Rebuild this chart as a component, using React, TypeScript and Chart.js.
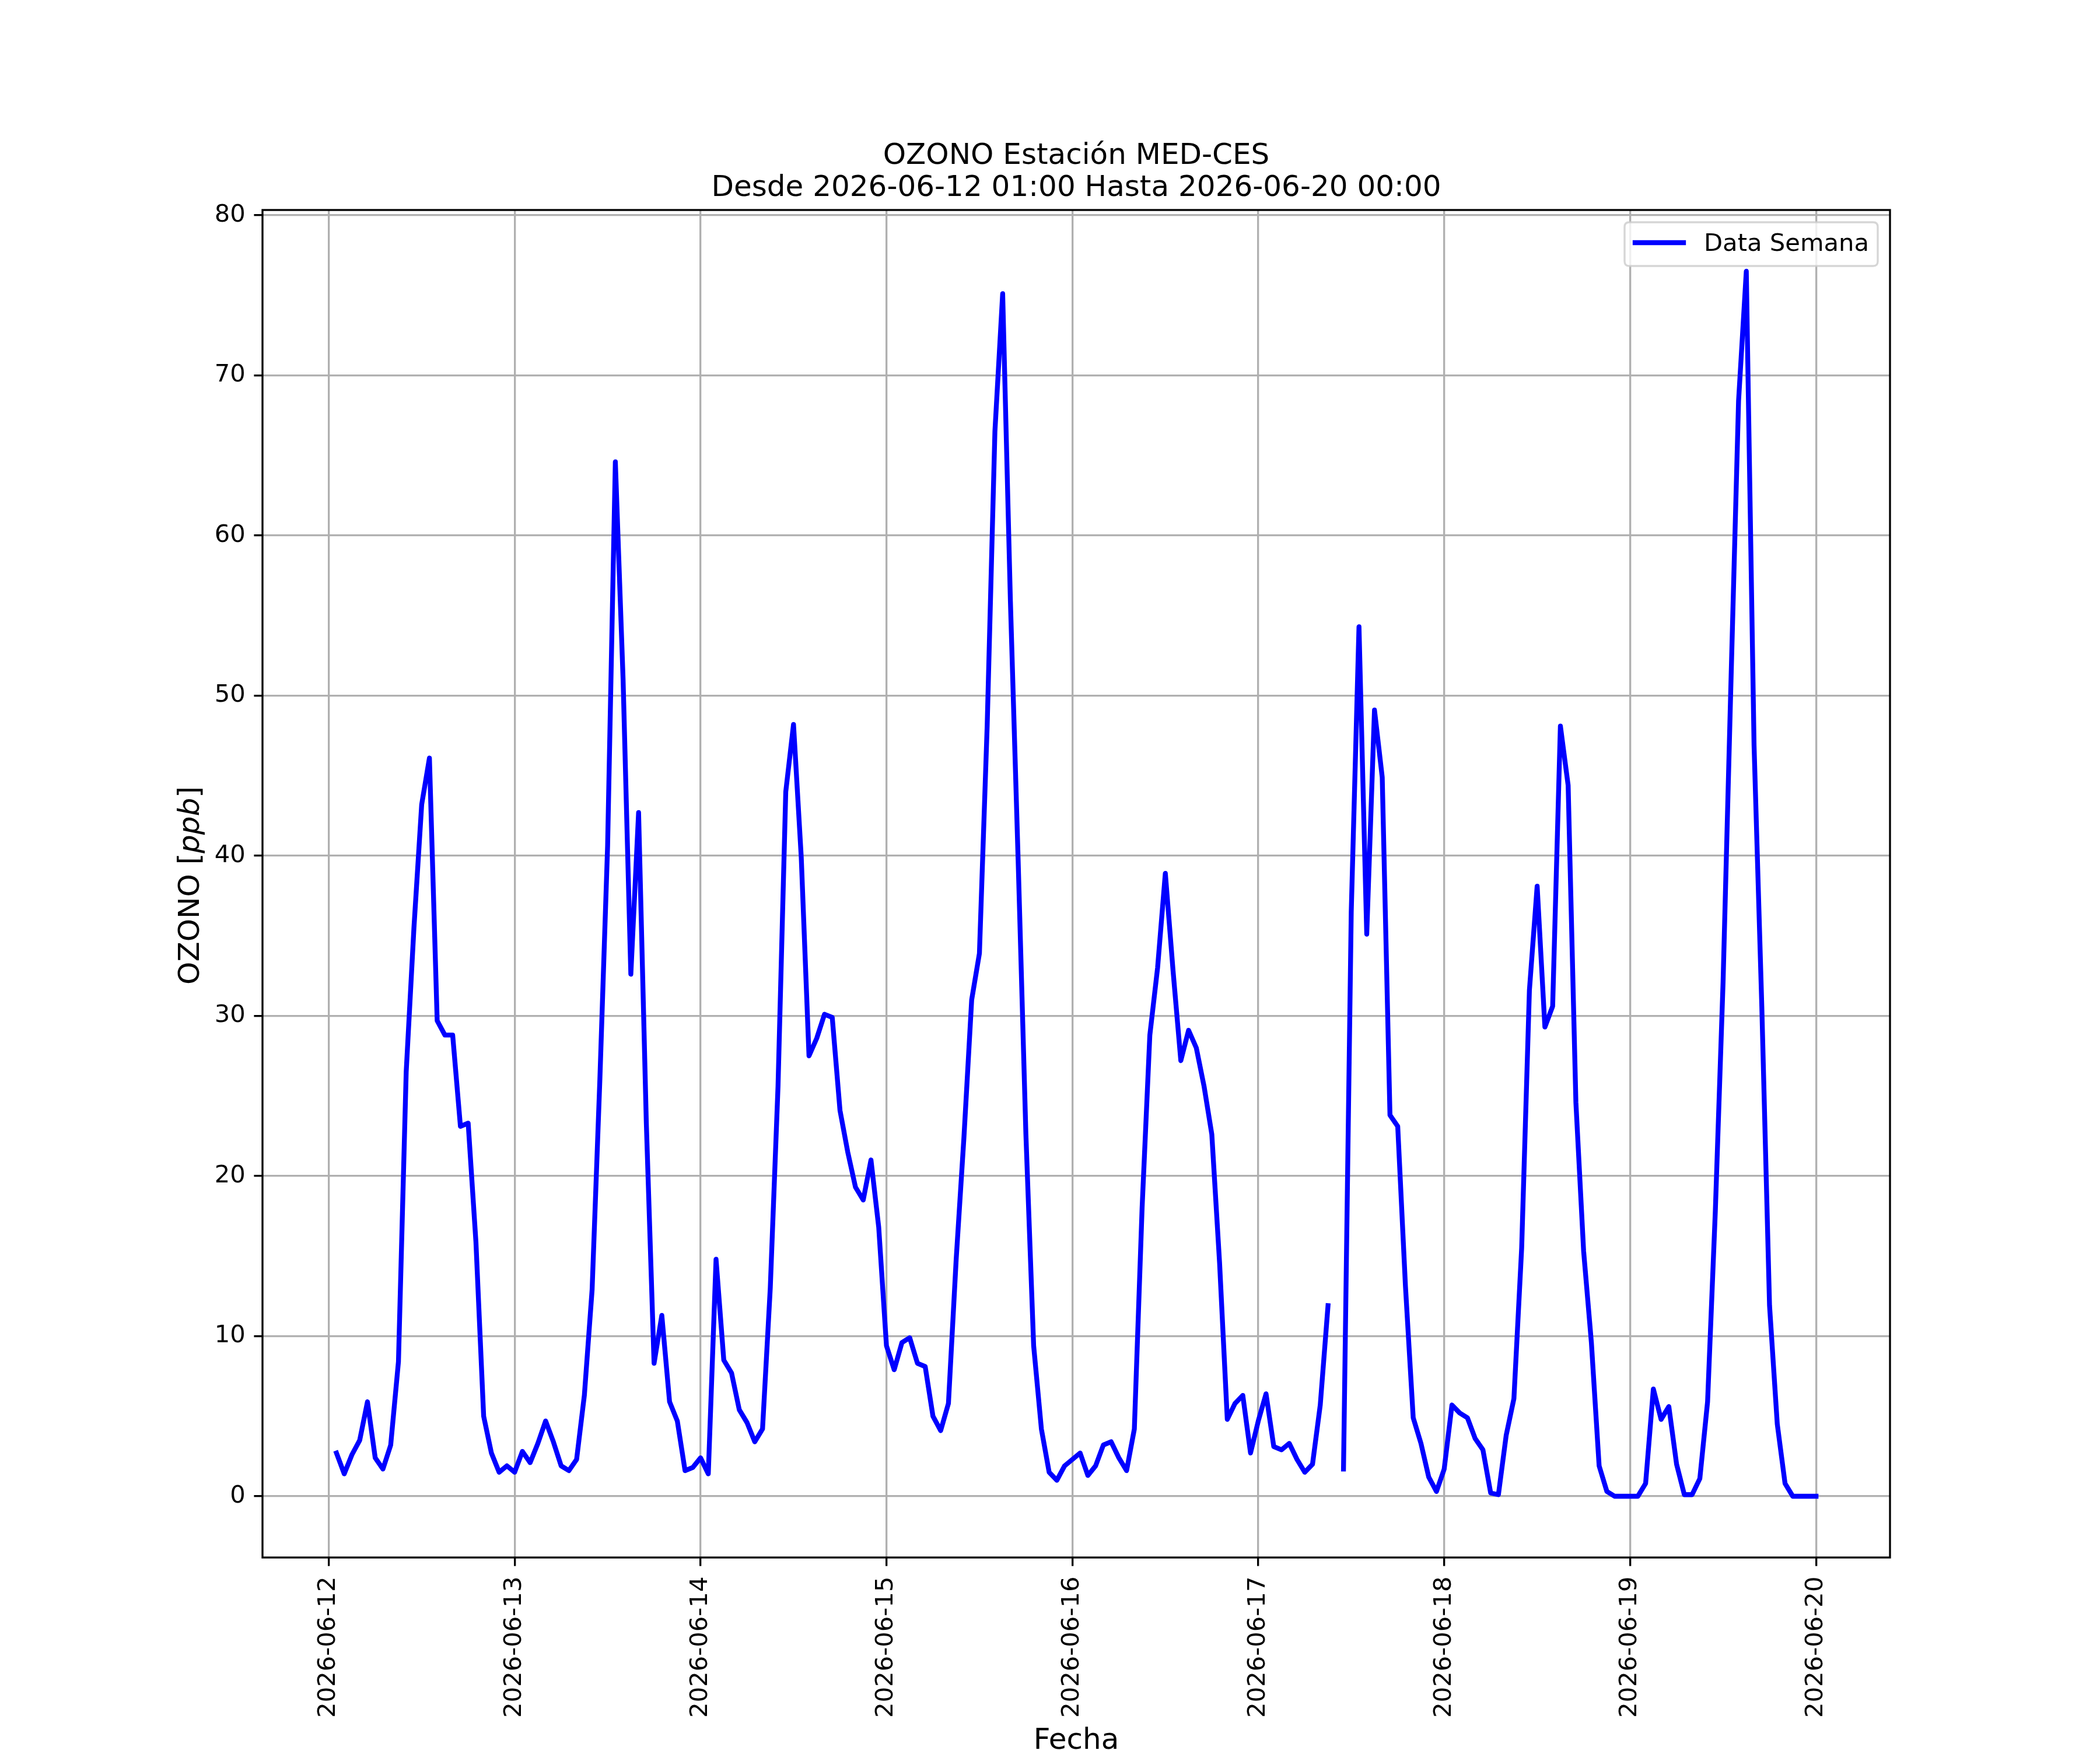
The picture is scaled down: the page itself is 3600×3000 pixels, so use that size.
import React, { useEffect, useRef } from "react";
import { Chart, registerables } from "chart.js";

Chart.register(...registerables);

// ---- data (hourly OZONO ppb, 01:00 .. 24:00 of each day) ----
const tickLabels = [
  "2026-06-12", "2026-06-13", "2026-06-14", "2026-06-15", "2026-06-16",
  "2026-06-17", "2026-06-18", "2026-06-19", "2026-06-20",
];
const ozone0612 = [2.7, 1.4, 2.6, 3.5, 5.9, 2.4, 1.7, 3.2, 8.4, 26.5, 35.5, 43.2, 46.1, 29.7, 28.8, 28.8, 23.1, 23.3, 15.9, 5.0, 2.7, 1.5, 1.9, 1.5];
const ozone0613 = [2.8, 2.1, 3.3, 4.7, 3.4, 1.9, 1.6, 2.3, 6.3, 12.9, 26.0, 40.6, 64.6, 51.0, 32.6, 42.7, 23.3, 8.3, 11.3, 5.9, 4.7, 1.6, 1.8, 2.4];
const ozone0614 = [1.4, 14.8, 8.5, 7.7, 5.4, 4.6, 3.4, 4.2, 13.0, 25.6, 44.0, 48.2, 39.9, 27.5, 28.6, 30.1, 29.9, 24.1, 21.5, 19.3, 18.5, 21.0, 16.8, 9.4];
const ozone0615 = [7.9, 9.6, 9.9, 8.3, 8.1, 5.0, 4.1, 5.8, 14.8, 22.4, 31.0, 33.9, 48.1, 66.5, 75.1, 55.9, 39.7, 22.6, 9.4, 4.2, 1.5, 1.0, 1.9, 2.3];
const ozone0616 = [2.7, 1.3, 1.9, 3.2, 3.4, 2.4, 1.6, 4.2, 18.0, 28.8, 33.0, 38.9, 32.8, 27.2, 29.1, 28.0, 25.6, 22.6, 14.6, 4.8, 5.8, 6.3, 2.7, 4.7];
const ozone0617 = [6.4, 3.1, 2.9, 3.3, 2.3, 1.5, 2.0, 5.7, 11.9, null, 1.7, 36.5, 54.3, 35.1, 49.1, 44.9, 23.8, 23.1, 13.1, 4.9, 3.3, 1.2, 0.3, 1.7];
const ozone0618 = [5.7, 5.2, 4.9, 3.6, 2.9, 0.2, 0.1, 3.8, 6.1, 15.5, 31.6, 38.1, 29.3, 30.6, 48.1, 44.4, 24.6, 15.3, 9.6, 1.9, 0.3, 0.0, 0.0, 0.0];
const ozone0619 = [0.0, 0.8, 6.7, 4.8, 5.6, 2.0, 0.1, 0.1, 1.1, 5.9, 17.8, 32.1, 50.5, 68.4, 76.5, 46.9, 30.6, 11.9, 4.5, 0.8, 0.0, 0.0, 0.0, 0.0];
const yTicks = [0, 10, 20, 30, 40, 50, 60, 70, 80];

const ozoneValues: (number | null)[] = [
  ...ozone0612, ...ozone0613, ...ozone0614, ...ozone0615,
  ...ozone0616, ...ozone0617, ...ozone0618, ...ozone0619,
];
// hours since 2026-06-12 00:00
const hours = ozoneValues.map((_, i) => i + 1);

const FONT = '"DejaVu Sans"';
const W = 3600;
const H = 3000;

const decorPlugin = {
  id: "mplDecor",
  afterDraw(chart: any) {
    const ctx = chart.ctx;
    const a = chart.chartArea;
    ctx.save();
    // spines
    ctx.strokeStyle = "#000";
    ctx.lineWidth = 3.33;
    ctx.lineJoin = "miter";
    ctx.strokeRect(a.left, a.top, a.right - a.left, a.bottom - a.top);

    // legend (upper right, inside axes)
    const bx = a.right - 21 - 434;
    const by = a.top + 21;
    const bw = 434;
    const bh = 75;
    const r = 8;
    ctx.beginPath();
    ctx.moveTo(bx + r, by);
    ctx.lineTo(bx + bw - r, by);
    ctx.quadraticCurveTo(bx + bw, by, bx + bw, by + r);
    ctx.lineTo(bx + bw, by + bh - r);
    ctx.quadraticCurveTo(bx + bw, by + bh, bx + bw - r, by + bh);
    ctx.lineTo(bx + r, by + bh);
    ctx.quadraticCurveTo(bx, by + bh, bx, by + bh - r);
    ctx.lineTo(bx, by + r);
    ctx.quadraticCurveTo(bx, by, bx + r, by);
    ctx.closePath();
    ctx.fillStyle = "rgba(255,255,255,0.8)";
    ctx.fill();
    ctx.strokeStyle = "rgba(204,204,204,0.8)";
    ctx.lineWidth = 3.33;
    ctx.stroke();
    ctx.beginPath();
    ctx.moveTo(bx + 18, by + 35);
    ctx.lineTo(bx + 101, by + 35);
    ctx.strokeStyle = "#0000ff";
    ctx.lineWidth = 8.33;
    ctx.lineCap = "square";
    ctx.stroke();
    ctx.lineCap = "butt";
    ctx.fillStyle = "#000";
    ctx.font = `41.7px ${FONT}`;
    ctx.textAlign = "left";
    ctx.textBaseline = "alphabetic";
    ctx.fillText("Data Semana", bx + 136, by + 49);

    // title
    const cx = (a.left + a.right) / 2;
    ctx.font = `50px ${FONT}`;
    ctx.textAlign = "center";
    ctx.fillText("OZONO Estación MED-CES", cx, 281);
    ctx.fillText("Desde 2026-06-12 01:00 Hasta 2026-06-20 00:00", cx, 336);

    // x label
    ctx.fillText("Fecha", cx, 2998);

    // y label with italic ppb
    const partsY = [
      { t: "OZONO ", f: `50px ${FONT}` },
      { t: "[", f: `50px ${FONT}` },
      { t: "ppb", f: `italic 50px ${FONT}` },
      { t: "]", f: `50px ${FONT}` },
    ];
    let total = 0;
    const widths = partsY.map((p) => {
      ctx.font = p.f;
      const w = ctx.measureText(p.t).width;
      total += w;
      return w;
    });
    ctx.translate(341, (a.top + a.bottom) / 2 + 3);
    ctx.rotate(-Math.PI / 2);
    ctx.textAlign = "left";
    let x = -total / 2;
    partsY.forEach((p, i) => {
      ctx.font = p.f;
      ctx.fillText(p.t, x, 0);
      x += widths[i];
    });
    ctx.restore();
  },
};

export default function App() {
  const ref = useRef<HTMLCanvasElement | null>(null);
  useEffect(() => {
    document.body.style.margin = "0";
    document.body.style.overflow = "hidden";
    const canvas = ref.current;
    if (!canvas) return;
    const vals = ozoneValues.filter((v) => v !== null) as number[];
    const vMin = Math.min(...vals);
    const vMax = Math.max(...vals);
    const yPad = (vMax - vMin) * 0.05;
    const xMin0 = hours[0];
    const xMax0 = hours[hours.length - 1];
    const xPad = (xMax0 - xMin0) * 0.05;

    const chart = new Chart(canvas, {
      type: "line",
      data: {
        datasets: [
          {
            label: "Data Semana",
            data: hours.map((h, i) => ({ x: h, y: ozoneValues[i] })),
            borderColor: "#0000ff",
            backgroundColor: "#0000ff",
            borderWidth: 8.33,
            pointRadius: 0,
            pointHoverRadius: 0,
            tension: 0,
            spanGaps: false,
            borderJoinStyle: "round",
            borderCapStyle: "square",
            fill: false,
          } as any,
        ],
      },
      options: {
        animation: false,
        responsive: false,
        maintainAspectRatio: false,
        devicePixelRatio: 1,
        events: [],
        layout: { padding: { left: 0, top: 360, right: 360, bottom: 0 } },
        plugins: {
          legend: { display: false },
          title: { display: false },
          tooltip: { enabled: false },
        },
        scales: {
          x: {
            type: "linear",
            min: xMin0 - xPad,
            max: xMax0 + xPad,
            afterBuildTicks: (scale: any) => {
              scale.ticks = tickLabels.map((_, i) => ({ value: i * 24 }));
            },
            afterFit: (scale: any) => {
              scale.height = 330;
            },
            grid: {
              color: "#b0b0b0",
              lineWidth: 3.33,
              drawTicks: true,
              tickLength: 14.6,
              tickColor: "#000",
              tickWidth: 3.33,
            },
            border: { display: false },
            ticks: {
              color: "#000",
              font: { family: "DejaVu Sans", size: 41.7 },
              minRotation: 90,
              maxRotation: 90,
              autoSkip: false,
              padding: 18,
              callback: (_v: any, i: number) => tickLabels[i],
            },
          },
          y: {
            type: "linear",
            min: vMin - yPad,
            max: vMax + yPad,
            afterBuildTicks: (scale: any) => {
              scale.ticks = yTicks.map((v) => ({ value: v }));
            },
            afterFit: (scale: any) => {
              scale.width = 450;
            },
            grid: {
              color: "#b0b0b0",
              lineWidth: 3.33,
              drawTicks: true,
              tickLength: 14.6,
              tickColor: "#000",
              tickWidth: 3.33,
            },
            border: { display: false },
            ticks: {
              color: "#000",
              font: { family: "DejaVu Sans", size: 41.7 },
              padding: 14.6,
              callback: (v: any) => String(v),
            },
          },
        },
      } as any,
      plugins: [decorPlugin],
    });
    return () => chart.destroy();
  }, []);
  return (
    <canvas
      ref={ref}
      width={W}
      height={H}
      style={{ display: "block", width: W + "px", height: H + "px", background: "#fff" }}
    />
  );
}
